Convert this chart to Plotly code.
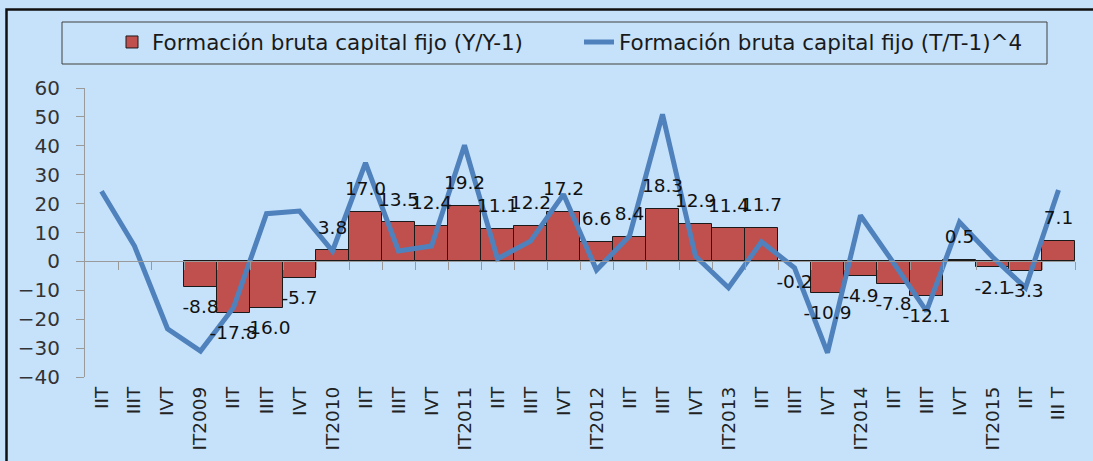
import plotly.graph_objects as go

categories = ["IIT", "IIIT", "IVT", "IT2009", "IIT", "IIIT", "IVT", "IT2010",
              "IIT", "IIIT", "IVT", "IT2011", "IIT", "IIIT", "IVT", "IT2012",
              "IIT", "IIIT", "IVT", "IT2013", "IIT", "IIIT", "IVT", "IT2014",
              "IIT", "IIIT", "IVT", "IT2015", "IIT", "III T"]

yoy_values = [None, None, None, -8.8, -17.8, -16.0, -5.7, 3.8,
              17.0, 13.5, 12.4, 19.2, 11.1, 12.2, 17.2, 6.6,
              8.4, 18.3, 12.9, 11.4, 11.7, -0.2, -10.9, -4.9,
              -7.8, -12.1, 0.5, -2.1, -3.3, 7.1]

qoq_annual_values = [24.3, 5.3, -23.3, -31.0, -16.0, 16.5, 17.4, 3.6,
                     34.1, 3.6, 5.3, 40.2, 0.9, 7.0, 23.2, -3.0,
                     8.8, 50.9, 1.8, -9.1, 6.8, -2.2, -31.6, 15.9,
                     -0.5, -17.2, 13.6, 1.5, -9.1, 24.7]

name_bar = "Formación bruta capital fijo (Y/Y-1)"
name_line = "Formación bruta capital fijo (T/T-1)^4"

BG = "#C6E2FA"
FONT = "DejaVu Sans"

x = list(range(len(categories)))

fig = go.Figure()
fig.add_trace(go.Bar(
    x=x, y=yoy_values, name=name_bar,
    marker=dict(color="#C0504D", line=dict(color="#1a1a1a", width=1)),
    width=1.0,
))
fig.add_trace(go.Scatter(
    x=x, y=qoq_annual_values, name=name_line, mode="lines",
    line=dict(color="#4F81BD", width=5),
))

lx = [xi for xi, v in zip(x, yoy_values) if v is not None]
ly = [v for v in yoy_values if v is not None]
fig.add_trace(go.Scatter(
    x=lx, y=ly, mode="markers+text", showlegend=False, hoverinfo="skip",
    text=[f"{v:.1f}" for v in ly],
    textposition=["top center" if v >= 0 else "bottom center" for v in ly],
    textfont=dict(family=FONT, size=18.5, color="#111111"),
    marker=dict(size=18, color="rgba(0,0,0,0)"),
    xaxis="x", yaxis="y",
))

# axis at zero with tick marks between categories
fig.add_trace(go.Scatter(x=[None], y=[None], xaxis="x2", yaxis="y", showlegend=False))

fig.update_layout(
    width=1093, height=461,
    margin=dict(l=85, r=18, t=88, b=84),
    paper_bgcolor=BG, plot_bgcolor=BG,
    bargap=0,
    showlegend=True,
    legend=dict(
        orientation="h", x=(152 - 40 - 85) / 990, xanchor="left",
        y=(377 - 42) / 289, yanchor="middle",
        font=dict(family=FONT, size=21.5, color="#1a1a1a"),
        bgcolor="rgba(0,0,0,0)", borderwidth=0,
        entrywidth=422, entrywidthmode="pixels",
        traceorder="normal",
    ),
    xaxis=dict(
        range=[-0.5, len(categories) - 0.5],
        tickmode="array", tickvals=x, ticktext=categories,
        tickangle=-90, ticks="", showline=False, showgrid=False, zeroline=False,
        tickfont=dict(family=FONT, size=18.5, color="#222222"),
        ticklabelstandoff=5, automargin=False,
    ),
    xaxis2=dict(
        overlaying="x", matches="x", anchor="free", position=0.4,
        range=[-0.5, len(categories) - 0.5],
        tickmode="array", tickvals=[i + 0.5 for i in x],
        ticks="outside", ticklen=8, tickcolor="#9a9a9a", tickwidth=1,
        showticklabels=False, showline=True, linecolor="#9a9a9a", linewidth=1,
        showgrid=False, zeroline=False, side="bottom", automargin=False,
    ),
    yaxis=dict(
        range=[-40, 60], dtick=10, tick0=0,
        ticks="outside", ticklen=8, tickcolor="#9a9a9a",
        showline=True, linecolor="#9a9a9a", linewidth=1,
        showgrid=False, zeroline=False, automargin=False,
        tickfont=dict(family=FONT, size=20, color="#333333"),
        ticklabelstandoff=12,
    ),
)

def px_x(p):
    return (p - 85) / 990

def px_y(p):
    return (377 - p) / 289

# legend frame
fig.add_shape(type="rect", xref="paper", yref="paper",
              x0=px_x(62), x1=px_x(1047), y0=px_y(64), y1=px_y(22),
              line=dict(color="#404040", width=1), fillcolor="rgba(0,0,0,0)", layer="below")
# outer chart frame (top and left edges)
fig.add_shape(type="path", xref="paper", yref="paper",
              path=f"M {px_x(6.5)} {px_y(470)} L {px_x(6.5)} {px_y(9.5)} L {px_x(1100)} {px_y(9.5)}",
              line=dict(color="#111111", width=2.5))

fig.write_html(
    "out.html",
    config={"displayModeBar": False},
    post_script=f"document.body.style.margin='0';document.body.style.background='{BG}';",
)
